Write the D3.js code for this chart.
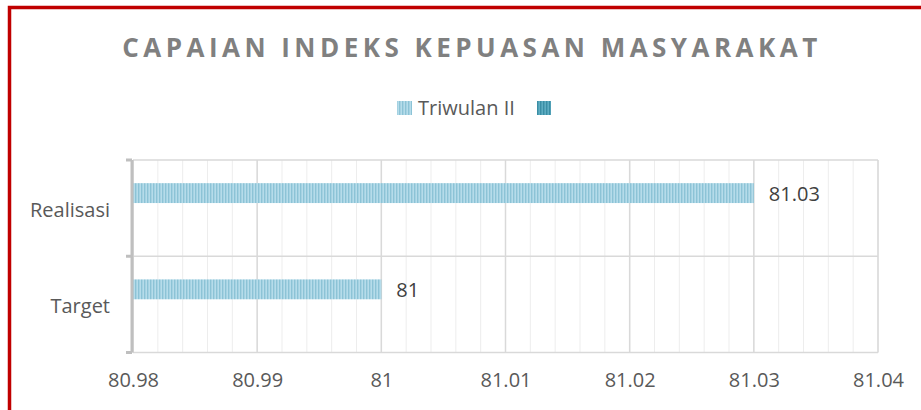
<!DOCTYPE html>
<html>
<head>
<meta charset="utf-8">
<script src="https://cdn.jsdelivr.net/npm/d3@7"></script>
<style>
  body { margin: 0; background: #fff; }
  text { font-family: "Open Sans", sans-serif; }
</style>
</head>
<body>
<div id="chart"></div>
<script>
const W = 921,
  H = 410;

// data
const chartTitle = "CAPAIAN INDEKS KEPUASAN MASYARAKAT";
const categories = ["Realisasi", "Target"];
const seriesNames = ["Triwulan II", ""];
const triwulanII = [81.03, 81];
const secondSeries = [null, null];
const xTicks = [80.98, 80.99, 81, 81.01, 81.02, 81.03, 81.04];
const xTickLabels = ["80.98", "80.99", "81", "81.01", "81.02", "81.03", "81.04"];
const dataLabels = ["81.03", "81"];

const svg = d3
  .select("#chart")
  .append("svg")
  .attr("width", W)
  .attr("height", H);

// stripe patterns (Excel vertical pattern fill)
const defs = svg.append("defs");
const stripe = (id, base, line) => {
  const p = defs
    .append("pattern")
    .attr("id", id)
    .attr("patternUnits", "userSpaceOnUse")
    .attr("width", 3)
    .attr("height", 10);
  p.append("rect").attr("width", 3).attr("height", 10).attr("fill", base);
  p.append("rect").attr("width", 1.4).attr("height", 10).attr("fill", line);
};
stripe("stripeLight", "#b6dcea", "#8cc3d6");
stripe("stripeDark", "#5eadc2", "#3a8ea5");

// scales
const x = d3.scaleLinear().domain([80.98, 81.04]).range([133, 878]);
const y0 = d3.scaleBand().domain(categories).range([160, 352.5]);
const y1 = d3
  .scaleBand()
  .domain(seriesNames)
  .range([0, y0.bandwidth()])
  .paddingInner(0)
  .paddingOuter(1.42)
  .align(0.41);

// minor gridlines
svg
  .append("g")
  .selectAll("line")
  .data(x.ticks(30))
  .enter()
  .append("line")
  .attr("x1", d => x(d))
  .attr("x2", d => x(d))
  .attr("y1", y0.range()[0])
  .attr("y2", y0.range()[1])
  .attr("stroke", "#ededed")
  .attr("stroke-width", 1);

// major vertical gridlines
svg
  .append("g")
  .selectAll("line")
  .data(xTicks)
  .enter()
  .append("line")
  .attr("x1", d => x(d))
  .attr("x2", d => x(d))
  .attr("y1", y0.range()[0])
  .attr("y2", y0.range()[1])
  .attr("stroke", "#d9d9d9")
  .attr("stroke-width", 1.5);

// horizontal gridlines at category boundaries
const bounds = categories.map(c => y0(c)).concat([y0.range()[1]]);
svg
  .append("g")
  .selectAll("line")
  .data(bounds)
  .enter()
  .append("line")
  .attr("x1", x.range()[0])
  .attr("x2", x.range()[1])
  .attr("y1", d => d)
  .attr("y2", d => d)
  .attr("stroke", "#d9d9d9")
  .attr("stroke-width", 1.5);

// bars
svg
  .append("g")
  .selectAll("rect")
  .data(categories.map((c, i) => ({ c, v: triwulanII[i] })))
  .enter()
  .append("rect")
  .attr("x", x(80.98))
  .attr("y", d => y0(d.c) + y1(seriesNames[0]))
  .attr("width", d => x(d.v) - x(80.98))
  .attr("height", y1.bandwidth())
  .attr("fill", "url(#stripeLight)");

// data labels
svg
  .append("g")
  .selectAll("text")
  .data(categories.map((c, i) => ({ c, v: triwulanII[i], t: dataLabels[i] })))
  .enter()
  .append("text")
  .attr("x", d => x(d.v) + 15)
  .attr("y", d => y0(d.c) + y1(seriesNames[0]) + y1.bandwidth() / 2)
  .attr("dy", "0.38em")
  .attr("font-size", 20)
  .attr("fill", "#404040")
  .text(d => d.t);

// y axis (category)
const yAxis = svg
  .append("g")
  .attr("transform", `translate(${x.range()[0] - 1},0)`)
  .call(d3.axisLeft(y0).tickSize(0).tickPadding(22));
yAxis.select(".domain").remove();
yAxis
  .selectAll("text")
  .attr("font-family", "Open Sans, sans-serif")
  .attr("font-size", 20)
  .attr("fill", "#595959")
  .attr("dy", "0.45em");
svg
  .append("line")
  .attr("x1", x.range()[0] - 1)
  .attr("x2", x.range()[0] - 1)
  .attr("y1", y0.range()[0])
  .attr("y2", y0.range()[1])
  .attr("stroke", "#bfbfbf")
  .attr("stroke-width", 3);
svg
  .append("g")
  .selectAll("line")
  .data(bounds)
  .enter()
  .append("line")
  .attr("x1", x.range()[0] - 7)
  .attr("x2", x.range()[0] - 1)
  .attr("y1", d => d)
  .attr("y2", d => d)
  .attr("stroke", "#bfbfbf")
  .attr("stroke-width", 3);

// x axis
const xAxis = svg
  .append("g")
  .attr("transform", `translate(0,${y0.range()[1]})`)
  .call(
    d3
      .axisBottom(x)
      .tickValues(xTicks)
      .tickSize(0)
      .tickPadding(20)
      .tickFormat((d, i) => xTickLabels[i])
  );
xAxis.select(".domain").remove();
xAxis
  .selectAll("text")
  .attr("font-family", "Open Sans, sans-serif")
  .attr("font-size", 20)
  .attr("fill", "#595959");

// title, letter spacing fitted to the width it takes in the original
const title = svg
  .append("text")
  .attr("x", 472)
  .attr("y", 57)
  .attr("text-anchor", "middle")
  .attr("font-size", 26)
  .attr("font-weight", 700)
  .attr("fill", "#808080")
  .text(chartTitle);
const plainW = title.node().getComputedTextLength();
title.attr("letter-spacing", (695 - plainW) / (chartTitle.length - 1));

// legend
const legend = svg.append("g");
legend
  .append("rect")
  .attr("x", 397)
  .attr("y", 101)
  .attr("width", 15)
  .attr("height", 14)
  .attr("fill", "url(#stripeLight)");
legend
  .append("text")
  .attr("x", 418)
  .attr("y", 115)
  .attr("font-size", 20)
  .attr("fill", "#595959")
  .text(seriesNames[0]);
legend
  .append("rect")
  .attr("x", 537)
  .attr("y", 101)
  .attr("width", 14)
  .attr("height", 14)
  .attr("fill", "url(#stripeDark)");

// chart border
svg
  .append("rect")
  .attr("x", 9.5)
  .attr("y", 7.5)
  .attr("width", 1000)
  .attr("height", 1000)
  .attr("fill", "none")
  .attr("stroke", "#c00000")
  .attr("stroke-width", 3.5);
</script>
</body>
</html>
